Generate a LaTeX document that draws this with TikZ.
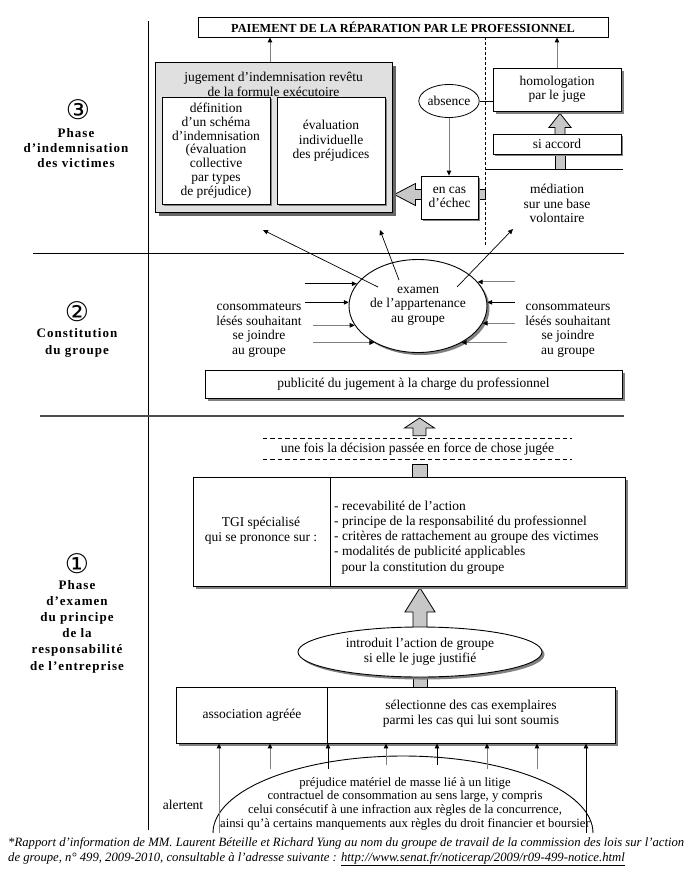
\documentclass[tikz,border=0pt]{standalone}
\usepackage{fontspec}
\setmainfont{Liberation Serif}
\newfontfamily\phasefont[LetterSpace=8]{Liberation Serif}
\newfontfamily\circfont{DejaVu Sans}
\usetikzlibrary{shapes.geometric,shadows,calc,arrows.meta}
\pgfdeclarelayer{bgzero}
\pgfdeclarelayer{bgone}
\pgfsetlayers{bgzero,bgone,main}

% vertical block arrow: #1 start, #2 tip, #3 shaft half width, #4 head half width, #5 head length
\newcommand\upblock[5]{\path[blockarrow] let \p1=(#1), \p2=(#2) in
  (\x1-#3pt,\y1) -- (\x1-#3pt,\y2-#5pt) -- (\x1-#4pt,\y2-#5pt) -- (\x1,\y2) --
  (\x1+#4pt,\y2-#5pt) -- (\x1+#3pt,\y2-#5pt) -- (\x1+#3pt,\y1) -- cycle;}
% leftward block arrow
\newcommand\leftblock[5]{\path[blockarrow] let \p1=(#1), \p2=(#2) in
  (\x1,\y1+#3pt) -- (\x2+#5pt,\y1+#3pt) -- (\x2+#5pt,\y1+#4pt) -- (\x2,\y1) --
  (\x2+#5pt,\y1-#4pt) -- (\x2+#5pt,\y1-#3pt) -- (\x1,\y1-#3pt) -- cycle;}

\tikzset{
  box/.style={draw, line width=0.8pt, fill=white, inner sep=0pt, align=center},
  shad/.style={drop shadow={shadow xshift=2.5pt, shadow yshift=-2.5pt, fill=black!50, opacity=1}},
  shadsmall/.style={drop shadow={shadow xshift=1.5pt, shadow yshift=-1.5pt, fill=black!50, opacity=1}},
  txt/.style={inner sep=0pt, align=center},
  blockarrow/.style={draw, line width=0.8pt, fill=black!22, line join=miter},
  barrow/.style={line width=0.7pt, -{Triangle[length=5pt,width=4.5pt]}},
  garrow/.style={line width=0.9pt, draw=black!50, -{Triangle[length=5pt,width=4.5pt,color=black]}},
  dashline/.style={line width=1.3pt, dash pattern=on 4.3pt off 3.2pt},
  phase/.style={inner sep=0pt, align=center, font=\phasefont\bfseries\fontsize{13}{15}\selectfont},
  circ/.style={inner sep=0pt, font=\circfont\fontsize{27}{27}\selectfont},
}

\begin{document}
\begin{tikzpicture}[x=1pt,y=-1pt,font=\fontsize{13.5}{14.5}\selectfont]
\begin{pgfonlayer}{bgzero}
  \fill[white] (0,0) rectangle (689,873);
\end{pgfonlayer}
\useasboundingbox (0,0) rectangle (689,873);

% ---------------- section lines ----------------
\coordinate (va) at (148,21);
\coordinate (vb) at (148,830);
\draw[line width=0.9pt] (va) -- (vb);
\coordinate (l1a) at (33,253);
\coordinate (l1b) at (624,253);
\draw[line width=0.9pt] (l1a) -- (l1b);
\coordinate (l2a) at (40,416);
\coordinate (l2b) at (624,416);
\draw[line width=1.4pt, black!70] (l2a) -- (l2b);

% ---------------- phase labels ----------------
\node[circ] (c3) at (78,110) {③};
\node[phase] (p3) at (76,148) {Phase\\d’indemnisation\\des victimes};
\node[circ] (c2) at (77,312) {②};
\node[phase, font=\phasefont\bfseries\fontsize{13}{17}\selectfont] (p2) at (77,343) {Constitution\\du groupe};
\node[circ] (c1) at (77,564) {①};
\node[phase, font=\phasefont\bfseries\fontsize{13}{16.2}\selectfont] (p1) at (77,626.5) {Phase\\d’examen\\du principe\\de la\\responsabilité\\de l’entreprise};

% ---------------- section 3 ----------------
\node[box, minimum width=410pt, minimum height=20pt, font=\fontsize{12.3}{14}\selectfont\bfseries] (top) at (403,27) {PAIEMENT DE LA RÉPARATION PAR LE PROFESSIONNEL};

\node[draw, line width=0.8pt, fill=black!12, minimum width=237pt, minimum height=150pt,
      drop shadow={shadow xshift=4pt, shadow yshift=-4pt, fill=black!60, opacity=1}] (jug) at (273.5,137) {};
\node[txt] (jugt) at (273.5,84.5) {jugement d’indemnisation revêtu\\de la formule exécutoire};
\node[box, shadsmall, minimum width=108pt, minimum height=107pt, font=\fontsize{13.5}{13.8}\selectfont] (jl) at (216,150.5)
  {définition\\d’un schéma\\d’indemnisation\\(évaluation\\collective\\par types\\de préjudice)};
\node[box, shadsmall, minimum width=108pt, minimum height=107pt] (jr) at (331,150.5) {};
\node[txt] (jrt) at (331,141) {évaluation\\individuelle\\des préjudices};

\node[draw, ellipse, line width=0.8pt, fill=white, minimum width=56pt, minimum height=33pt, inner sep=0pt] (abs) at (449,101) {absence};
\node[box, shad, minimum width=128pt, minimum height=43pt] (hom) at (557,89.5) {homologation\\par le juge};
\node[box, shadsmall, minimum width=128pt, minimum height=20pt] (acc) at (557,144) {si accord};
\node[txt] (med) at (557,203.5) {médiation\\sur une base\\volontaire};
\node[box, shadsmall, minimum width=57pt, minimum height=43pt] (ech) at (449.5,197.5) {en cas\\d’échec};

\coordinate (dtop) at (485,37);
\coordinate (dbot) at (485,245);
\draw[line width=0.9pt, dash pattern=on 3pt off 2pt] (dtop) -- (dbot);
\coordinate (ml) at (485,169);
\coordinate (mr) at (623,169);
\draw[line width=0.9pt] (ml) -- (mr);

\coordinate (j1) at ($(jug.north)+(-3.5,0)$);
\draw[garrow] (j1) -- (j1 |- top.south);
\draw[garrow] (hom.north) -- (hom.north |- top.south);
\draw[garrow] (abs.south) -- (abs.south |- ech.north);
\draw[line width=0.8pt] (abs.east) -- (abs.east -| hom.west);

\coordinate (a1) at ($(acc.north)+(3,2)$);
\coordinate (a2) at ($(a1 |- hom.south)+(0,2)$);
\coordinate (b1) at ($(ech.west)+(2,-3)$);
\coordinate (b2) at ($(b1 -| jug.east)+(2,0)$);
\begin{pgfonlayer}{bgone}
  \upblock{a1}{a2}{5}{11}{14}
  \path[blockarrow] ($(a1 |- ml)+(-5,0)$) rectangle ($(acc.south -| a1)+(5,-2)$);
  \leftblock{b1}{b2}{5}{11}{21}
  \path[blockarrow] ($(ech.east)+(-2,-8)$) rectangle ($(ech.east -| dtop)+(0,2)$);
\end{pgfonlayer}

% ---------------- section 2 ----------------
\node[draw, ellipse, line width=0.9pt, fill=white, shad, minimum width=138pt, minimum height=93pt, inner sep=0pt, align=center] (ex) at (418,306)
  {examen\\de l’appartenance\\au groupe};

\coordinate (e1s) at (378,287);
\coordinate (e1t) at (263,230);
\coordinate (e2s) at (399,280);
\coordinate (e2t) at (380,230);
\coordinate (e3s) at (457,287);
\coordinate (e3t) at (513,229);
\draw[barrow] (e1s) -- (e1t);
\draw[barrow] (e2s) -- (e2t);
\draw[barrow] (e3s) -- (e3t);

\coordinate (lx1) at (305,0);
\coordinate (lx2) at (313,0);
\coordinate (rx1) at (515,0);
\coordinate (rx2) at (507,0);
\draw[barrow] (ex.160 -| lx1) -- (ex.160);
\draw[barrow] (ex.177 -| lx1) -- (ex.177);
\draw[garrow] (ex.197 -| lx2) -- (ex.197);
\draw[garrow] (ex.220 -| lx2) -- (ex.220);
\draw[garrow] (ex.22 -| rx1) -- (ex.22);
\draw[barrow] (ex.3 -| rx1) -- (ex.3);
\draw[garrow] (ex.345 -| rx1) -- (ex.345);
\draw[garrow] (ex.320 -| rx2) -- (ex.320);

\node[txt] (cl) at (259,330) {consommateurs\\lésés souhaitant\\se joindre\\au groupe};
\node[txt] (cr) at (568,330) {consommateurs\\lésés souhaitant\\se joindre\\au groupe};

\node[box, shad, minimum width=417pt, minimum height=28pt] (pub) at (413.5,384) {publicité du jugement à la charge du professionnel};

% ---------------- section 1 ----------------
\node[txt, minimum width=309pt, minimum height=20pt] (dsh) at (417.5,449) {une fois la décision passée en force de chose jugée};
\draw[dashline] (dsh.north west) -- (dsh.north east);
\draw[dashline] (dsh.south west) -- (dsh.south east);

\node[box, shad, minimum width=432pt, minimum height=109pt] (tgi) at (409,531.5) {};
\coordinate (tdiv) at (330,0);
\draw[line width=0.8pt] (tgi.north -| tdiv) -- (tgi.south -| tdiv);
\node[txt] (tgil) at (261,530.5) {TGI spécialisé\\qui se prononce sur :};
\node[inner sep=0pt, align=left, anchor=west, font=\fontsize{13.5}{15.2}\selectfont] (tgir) at (334,537.5)
  {- recevabilité de l’action\\- principe de la responsabilité du professionnel\\- critères de rattachement au groupe des victimes\\- modalités de publicité applicables\\\hspace*{0.55em}pour la constitution du groupe};

\node[draw, ellipse, line width=0.9pt, fill=white, shad, minimum width=244pt, minimum height=50pt, inner sep=0pt, align=center] (intro) at (420,652)
  {introduit l’action de groupe\\si elle le juge justifié};

\node[box, shad, minimum width=439pt, minimum height=56pt] (assoc) at (395.5,715) {};
\coordinate (adiv) at (327,0);
\draw[line width=0.8pt] (assoc.north -| adiv) -- (assoc.south -| adiv);
\node[txt] (asl) at (252,715) {association agréée};
\node[txt] (asr) at (471,713.5) {sélectionne des cas exemplaires\\parmi les cas qui lui sont soumis};

\coordinate (u1) at ($(dsh.north)+(2,-3)$);
\coordinate (u2) at ($(u1 |- l2a)+(0,2)$);
\coordinate (s1) at ($(tgi.north -| u1)+(0,2)$);
\coordinate (i1) at ($(intro.north)+(0,3)$);
\coordinate (i2) at ($(intro.north |- tgi.south)+(0,1.5)$);
\coordinate (k1) at ($(intro.south)+(0,-3)$);
\begin{pgfonlayer}{bgone}
  \upblock{u1}{u2}{6.5}{15}{10}
  \path[blockarrow] ($(s1)+(-7.5,0)$) rectangle ($(s1 |- dsh.south)+(7.5,5)$);
  \upblock{i1}{i2}{7}{15}{24}
  \path[blockarrow] ($(k1)+(-7,0)$) rectangle ($(k1 |- assoc.north)+(7,2)$);
\end{pgfonlayer}

% bottom: préjudice
\coordinate (arcL) at (213,833);
\draw[line width=0.9pt] (arcL) arc[start angle=180, end angle=360, x radius=190, y radius=77];
\node[txt, font=\fontsize{12.7}{13.7}\selectfont] (prej) at (405,803.5)
  {préjudice matériel de masse lié à un litige\\contractuel de consommation au sens large, y compris\\celui consécutif à une infraction aux règles de la concurrence,\\ainsi qu’à certains manquements aux règles du droit financier et boursier};
\node[txt] (alert) at (183,805) {alertent};

\coordinate (q1) at (219,833);
\coordinate (q2) at (270,769);
\coordinate (q3) at (328,769);
\coordinate (q4) at (386,765);
\coordinate (q5) at (437,765);
\coordinate (q6) at (487,769);
\coordinate (q7) at (537,769);
\coordinate (q8) at (586,833);
\draw[garrow] (q1) -- (q1 |- assoc.south);
\draw[garrow] (q2) -- (q2 |- assoc.south);
\draw[barrow] (q3) -- (q3 |- assoc.south);
\draw[garrow] (q4) -- (q4 |- assoc.south);
\draw[barrow] (q5) -- (q5 |- assoc.south);
\draw[garrow] (q6) -- (q6 |- assoc.south);
\draw[garrow] (q7) -- (q7 |- assoc.south);
\draw[barrow] (q8) -- (q8 |- assoc.south);

% footnote
\node[inner sep=0pt, anchor=base west, font=\itshape\fontsize{12.7}{15}\selectfont] (fn1) at (8,846)
  {*Rapport d’information de MM. Laurent Béteille et Richard Yung au nom du groupe de travail de la commission des lois sur l’action};
\node[inner sep=0pt, anchor=base west, font=\itshape\fontsize{12.7}{15}\selectfont] (fn2) at (8,861)
  {de groupe, n° 499, 2009-2010, consultable à l’adresse suivante : \underline{http://www.senat.fr/noticerap/2009/r09-499-notice.html}};
\end{tikzpicture}
\end{document}
